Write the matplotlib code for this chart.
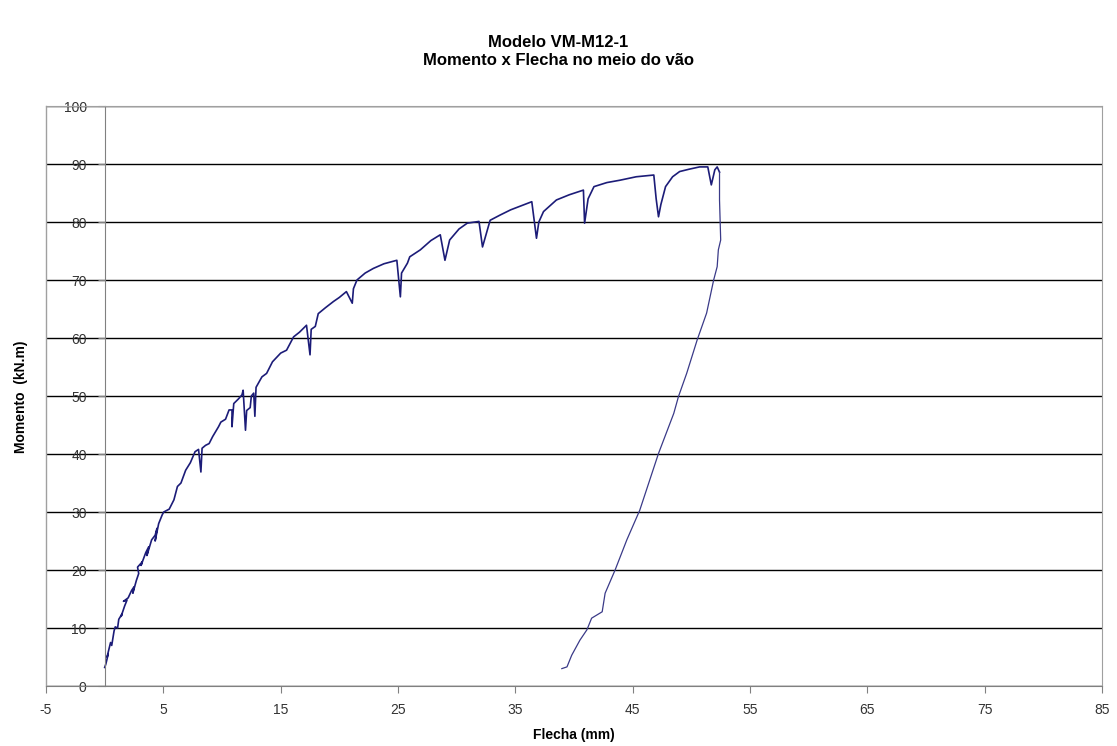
import matplotlib.pyplot as plt

# Dados: ramo de carregamento (com as quedas) e ramo de descarregamento
flecha_carga = [0.0, 0.1, 0.3, 0.2, 0.5, 0.6, 0.8, 0.9, 1.1, 1.2, 1.5, 1.4, 1.7, 1.9, 1.6,
                2.0, 2.3, 2.5, 2.4, 2.7, 2.9, 2.8, 3.2, 3.1, 3.5, 3.75, 3.6, 4.0, 4.3, 4.46,
                4.3, 4.6, 4.9, 5.03, 5.5, 5.9, 6.2, 6.5, 6.9, 7.3, 7.7, 8.0, 8.2, 8.3, 8.6,
                8.9, 9.2, 9.7, 9.9, 10.3, 10.6, 10.85, 10.85, 11.0, 11.4, 11.7, 11.8, 12.0,
                12.1, 12.4, 12.5, 12.7, 12.8, 12.9, 13.4, 13.8, 14.3, 15.0, 15.5, 16.1, 16.6,
                17.2, 17.5, 17.6, 17.95, 18.2, 18.8, 19.5, 20.0, 20.6, 21.1, 21.2, 21.5,
                22.2, 22.9, 23.8, 24.9, 25.2, 25.3, 25.8, 26.0, 26.9, 27.8, 28.6, 29.0,
                29.4, 30.2, 30.9, 31.9, 32.2, 32.85, 33.7, 34.6, 35.5, 36.4, 36.8, 37.0,
                37.4, 38.5, 39.6, 40.8, 40.9, 41.2, 41.7, 42.8, 43.9, 45.3, 46.8, 47.0,
                47.2, 47.4, 47.8, 48.4, 49.0, 49.8, 50.7, 51.4, 51.7, 52.0, 52.2, 52.4]
momento_carga = [3.2, 3.8, 5.5, 5.0, 7.5, 7.0, 9.5, 10.2, 10.0, 11.5, 12.5, 12.0, 13.8, 14.8, 14.6,
                 15.2, 16.5, 17.1, 16.0, 18.2, 19.4, 20.5, 21.4, 20.8, 23.0, 24.0, 22.5, 25.2, 26.0, 27.2,
                 25.0, 28.0, 29.5, 30.0, 30.5, 32.1, 34.4, 35.0, 37.2, 38.5, 40.4, 40.8, 36.9, 41.0, 41.5,
                 41.8, 43.0, 44.7, 45.5, 46.0, 47.6, 47.6, 44.7, 48.7, 49.5, 50.2, 51.0, 44.1,
                 47.5, 48.0, 50.0, 50.5, 46.5, 51.5, 53.3, 53.9, 55.9, 57.4, 57.9, 60.2, 61.0,
                 62.2, 57.1, 61.5, 62.0, 64.2, 65.2, 66.3, 67.0, 68.0, 66.0, 68.5, 70.0,
                 71.2, 72.0, 72.8, 73.4, 67.1, 71.2, 72.9, 74.0, 75.2, 76.8, 77.8, 73.4,
                 76.9, 78.8, 79.8, 80.1, 75.7, 80.3, 81.2, 82.1, 82.8, 83.5, 77.2, 80.0,
                 81.8, 83.8, 84.7, 85.5, 79.8, 84.0, 86.1, 86.8, 87.2, 87.8, 88.1, 84.0,
                 80.9, 83.0, 86.1, 87.8, 88.7, 89.1, 89.5, 89.5, 86.4, 89.0, 89.5, 88.6]

flecha_descarga = [52.4, 52.4, 52.5, 52.3, 52.2, 51.9, 51.3, 50.5, 49.6, 48.9, 48.5, 47.2,
                   45.6, 44.5, 43.5, 42.65, 42.4, 41.5, 41.1, 40.5, 39.8, 39.4, 38.96]
momento_descarga = [88.6, 83.8, 76.9, 75.2, 72.3, 70.0, 64.3, 59.7, 53.9, 49.9, 47.0, 40.1,
                    30.3, 25.2, 20.0, 16.0, 12.8, 11.7, 9.7, 7.9, 5.3, 3.3, 3.0]

x_ticks = [-5, 5, 15, 25, 35, 45, 55, 65, 75, 85]
y_ticks = [0, 10, 20, 30, 40, 50, 60, 70, 80, 90, 100]

plt.rcParams['font.family'] = ['Liberation Sans', 'DejaVu Sans']
plt.rcParams['axes.unicode_minus'] = False

fig = plt.figure(figsize=(11.17, 7.46), dpi=100)
ax = fig.add_axes([0.0412, 0.0804, 0.9454, 0.7775])

ax.plot(flecha_carga, momento_carga, '-', color='#1c1c78', linewidth=1.2)
ax.plot(flecha_descarga, momento_descarga, '-', color='#3a3a88', linewidth=0.9)

ax.set_xlim(-5, 85)
ax.set_ylim(0, 100)
ax.set_xticks(x_ticks)
ax.set_yticks(y_ticks)

# eixo vertical cruza em x = 0, como no Excel
ax.spines['left'].set_position(('data', 0))
ax.spines['left'].set_color('#808080')
ax.spines['bottom'].set_color('#808080')
ax.spines['top'].set_color('#a0a0a0')
ax.spines['right'].set_color('#a0a0a0')
ax.plot([0, 0], [0, 1], transform=ax.transAxes, color='#a0a0a0', linewidth=1, clip_on=False)

ax.yaxis.grid(True, color='black', linewidth=1)
ax.set_axisbelow(True)
ax.tick_params(axis='both', direction='out', length=5, color='#808080',
               labelsize=10, labelcolor='#333333')
ax.tick_params(axis='y', pad=8)
ax.tick_params(axis='x', pad=7)

ax.set_xlabel('Flecha (mm)', fontsize=10, fontweight='bold', labelpad=8)
fig.text(0.019, 0.468, 'Momento  (kN.m)', rotation=90, ha='center', va='center',
         fontsize=10, fontweight='bold')
fig.text(0.5, 0.931, 'Modelo VM-M12-1\nMomento x Flecha no meio do vão', ha='center',
         va='center', fontsize=12, fontweight='bold', linespacing=1.2)

plt.savefig('out.png', dpi=100)
